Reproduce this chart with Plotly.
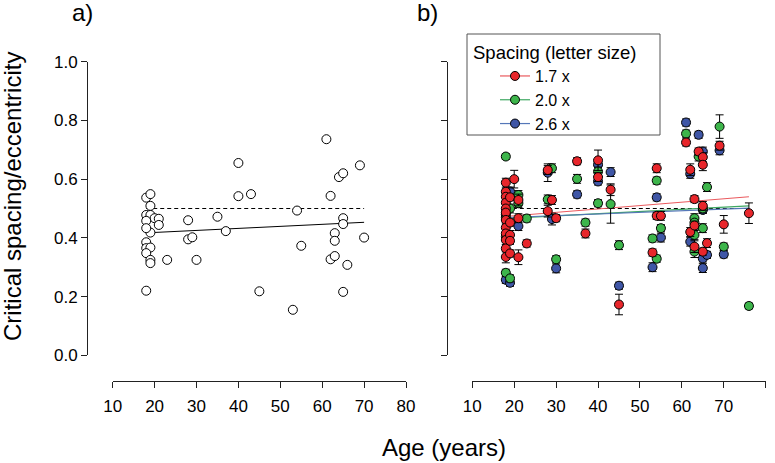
import plotly.graph_objects as go

# ---------------- data ----------------
# panel a) mean critical spacing/eccentricity per observer
a_age = [18,19,19,18,19,20,18,21,21,19, 18,18,18,19,18,19,19,18,23,28,
         28,29,30,35,37,40,40,43,45,53, 54,55,61,62,62,63,63,63,64,65,
         65,65,65,66,69,70]
a_val = [0.537,0.549,0.509,0.478,0.478,0.467,0.458,0.465,0.444,0.418,
         0.433,0.385,0.365,0.367,0.348,0.325,0.314,0.220,0.325,0.460,
         0.395,0.402,0.325,0.472,0.423,0.655,0.542,0.549,0.218,0.155,
         0.493,0.373,0.736,0.543,0.327,0.416,0.390,0.338,0.607,0.620,
         0.467,0.447,0.216,0.308,0.647,0.401]
a_fit_age = [18, 70]
a_fit_val = [0.417, 0.453]
a_ref_age = [18, 70]
a_ref_val = [0.5, 0.5]

# panel b) per spacing condition
red_age = [18,18,18,18,18,18,18,18,18,18,18,18, 19,19,19,19,19, 20, 21,21,21, 23, 28,28, 29, 30,
           35, 37, 40,40, 43, 45, 53, 54,54, 55, 61, 62,62, 63,63,63, 64, 65,65,65,65, 66, 69, 70, 76]
red_val = [0.588,0.557,0.540,0.520,0.500,0.486,0.461,0.435,0.415,0.393,0.364,0.335,
           0.538,0.452,0.410,0.390,0.347, 0.600, 0.529,0.467,0.334, 0.381, 0.631,0.491, 0.529, 0.467,
           0.661, 0.415, 0.664,0.607, 0.564, 0.173, 0.350, 0.637,0.475, 0.475, 0.725, 0.632,0.420,
           0.532,0.442,0.370, 0.694, 0.675,0.649,0.509,0.353, 0.382, 0.714, 0.446, 0.484]
red_err = [0.015,0.012,0.015,0.012,0.015,0.012,0.015,0.015,0.012,0.015,0.012,0.02,
           0.01,0.012,0.015,0.012,0.012, 0.03, 0.02,0.015,0.025, 0.012, 0.015,0.02, 0.015, 0.012,
           0.012, 0.015, 0.035,0.015, 0.02, 0.035, 0.012, 0.015,0.012, 0.015, 0.012, 0.02,0.015,
           0.012,0.015,0.02, 0.012, 0.015,0.02,0.015,0.012, 0.015, 0.015, 0.03, 0.035]

green_age = [18,18,18,18, 19,19, 21,21, 23, 28, 29, 30, 35, 37, 40,40, 43, 45, 53, 54,54, 55,
             61, 63,63,63,63, 64, 65,65, 66, 69, 70, 76]
green_val = [0.677,0.470,0.404,0.281, 0.262,0.500, 0.546,0.518, 0.466, 0.531, 0.637, 0.327, 0.601,
             0.452, 0.626,0.518, 0.515, 0.375, 0.398, 0.595,0.329, 0.433, 0.755, 0.467,0.452,0.410,
             0.353, 0.677, 0.433,0.500, 0.573, 0.779, 0.370, 0.168]
green_err = [0.01,0.015,0.015,0.012, 0.012,0.015, 0.015,0.015, 0.012, 0.015, 0.015, 0.012, 0.015,
             0.012, 0.015,0.012, 0.065, 0.015, 0.012, 0.012,0.012, 0.012, 0.012, 0.015,0.015,0.015,
             0.02, 0.015, 0.015,0.015, 0.015, 0.04, 0.012, 0.01]

blue_age = [18,18, 19,19, 21, 28, 29, 30, 35, 40,40, 43, 45, 53, 54, 55, 61, 62,62, 64,
            65,65,65,65, 66, 69, 70]
blue_val = [0.257,0.480, 0.247,0.558, 0.440, 0.622, 0.464, 0.296, 0.548, 0.649,0.592, 0.624, 0.237,
            0.300, 0.538, 0.401, 0.793, 0.618,0.387, 0.751, 0.694,0.495,0.330,0.297, 0.342, 0.698, 0.344]
blue_err = [0.012,0.015, 0.012,0.015, 0.015, 0.03, 0.02, 0.015, 0.012, 0.015,0.012, 0.015, 0.012,
            0.015, 0.012, 0.015, 0.012, 0.015,0.015, 0.012, 0.015,0.012,0.012,0.015, 0.012, 0.015, 0.012]

b_fit_age = [18, 76]
red_fit = [0.473, 0.540]
green_fit = [0.466, 0.509]
blue_fit = [0.469, 0.501]
b_ref_age = [18, 76]
b_ref_val = [0.5, 0.5]

legend_names = ["1.7 x", "2.0 x", "2.6 x"]
x_ticks = [10, 20, 30, 40, 50, 60, 70, 80]
y_ticks = [0.0, 0.2, 0.4, 0.6, 0.8, 1.0]

RED, GREEN, BLUE = "#e8262b", "#3db54b", "#3f56a6"
RED_L, GREEN_L, BLUE_L = "#ea5a5e", "#3fa862", "#5577b8"
FONT = "Liberation Sans, Arial"

W, H = 775, 463
def px(x): return x / W
def py(y): return 1 - y / H

fig = go.Figure()

# ---------- panel a ----------
fig.add_trace(go.Scatter(x=a_ref_age, y=a_ref_val, mode="lines", xaxis="x", yaxis="y",
                         line=dict(color="black", width=1.2, dash="4px,3px"), showlegend=False))
fig.add_trace(go.Scatter(x=a_fit_age, y=a_fit_val, mode="lines", xaxis="x", yaxis="y",
                         line=dict(color="black", width=1), showlegend=False))
fig.add_trace(go.Scatter(x=a_age, y=a_val, mode="markers", xaxis="x", yaxis="y",
                         marker=dict(size=9, color="white", line=dict(color="black", width=1)),
                         showlegend=False))

# ---------- panel b ----------
fig.add_trace(go.Scatter(x=b_ref_age, y=b_ref_val, mode="lines", xaxis="x2", yaxis="y2",
                         line=dict(color="black", width=1.2, dash="4px,3px"), showlegend=False))
for fit, col in [(red_fit, RED_L), (green_fit, GREEN_L), (blue_fit, BLUE_L)]:
    fig.add_trace(go.Scatter(x=b_fit_age, y=fit, mode="lines", xaxis="x2", yaxis="y2",
                             line=dict(color=col, width=1.2), showlegend=False))

for ages, vals, errs, col in [(blue_age, blue_val, blue_err, BLUE),
                              (green_age, green_val, green_err, GREEN),
                              (red_age, red_val, red_err, RED)]:
    fig.add_trace(go.Scatter(x=ages, y=vals, mode="markers", xaxis="x2", yaxis="y2",
                             error_y=dict(type="data", array=errs, color="black",
                                          thickness=1, width=4),
                             marker=dict(size=9, color=col, line=dict(color="black", width=1)),
                             showlegend=False))

# legend entries
for name, col, lcol in zip(legend_names, [RED, GREEN, BLUE], [RED_L, GREEN_L, BLUE_L]):
    fig.add_trace(go.Scatter(x=[None], y=[None], mode="lines+markers", name=name,
                             xaxis="x2", yaxis="y2",
                             line=dict(color=lcol, width=1.2),
                             marker=dict(size=9, color=col, line=dict(color="black", width=1))))

axis_common = dict(showgrid=False, zeroline=False, showline=True, linecolor="#222",
                   linewidth=1, ticks="outside", ticklen=6, tickwidth=1, tickcolor="#222",
                   tickfont=dict(family=FONT, size=17, color="black"),
                   anchor="free", fixedrange=True, automargin=False)

xdom_a = [px(112.7), px(406.0)]
xdom_b = [px(472.3), px(765.7)]
ydom = [py(355.3), py(61.7)]

fig.update_layout(
    width=W, height=H,
    margin=dict(l=0, r=0, t=0, b=0, autoexpand=False),
    paper_bgcolor="white", plot_bgcolor="white",
    font=dict(family=FONT, color="black"),
    xaxis=dict(domain=xdom_a, range=[10, 80], tickvals=x_ticks, position=py(381),
               ticklabelstandoff=4, **axis_common),
    yaxis=dict(domain=ydom, range=[0, 1], tickvals=y_ticks, tickformat=".1f",
               position=px(87), **axis_common),
    xaxis2=dict(domain=xdom_b, range=[10, 80], tickvals=x_ticks, position=py(381),
                ticklabelstandoff=4, **axis_common),
    yaxis2=dict(domain=ydom, range=[0, 1], tickvals=y_ticks, showticklabels=False,
                position=px(447), **axis_common),
    legend=dict(x=px(471), y=py(35), xanchor="left", yanchor="top",
                bgcolor="rgba(0,0,0,0)", borderwidth=0,
                font=dict(family=FONT, size=16, color="black"),
                title=dict(text="Spacing (letter size)", side="top",
                           font=dict(family=FONT, size=18.5)),
                indentation=24, tracegroupgap=0, itemwidth=30),
    # legend frame
    shapes=[dict(type="rect", xref="paper", yref="paper",
                 x0=px(467), x1=px(660), y0=py(135), y1=py(34),
                 fillcolor="white", line=dict(color="#555", width=1), layer="above")],
    annotations=[
        dict(text="a)", x=px(82), y=py(12), xref="paper", yref="paper", showarrow=False,
             xanchor="center", yanchor="middle", font=dict(size=24, family=FONT)),
        dict(text="b)", x=px(427.5), y=py(12), xref="paper", yref="paper", showarrow=False,
             xanchor="center", yanchor="middle", font=dict(size=24, family=FONT)),
        dict(text="Critical spacing/eccentricity", x=px(13), y=py(197), xref="paper", yref="paper",
             showarrow=False, textangle=-90, xanchor="center", yanchor="middle",
             font=dict(size=24, family=FONT)),
        dict(text="Age (years)", x=px(444), y=py(447), xref="paper", yref="paper",
             showarrow=False, xanchor="center", yanchor="middle",
             font=dict(size=24, family=FONT)),
    ],
)

# remove the browser's default 8 px body margin so the figure fills the window exactly
fig.write_html("out.html", config={"displayModeBar": False},
               post_script="document.body.style.margin='0';")
